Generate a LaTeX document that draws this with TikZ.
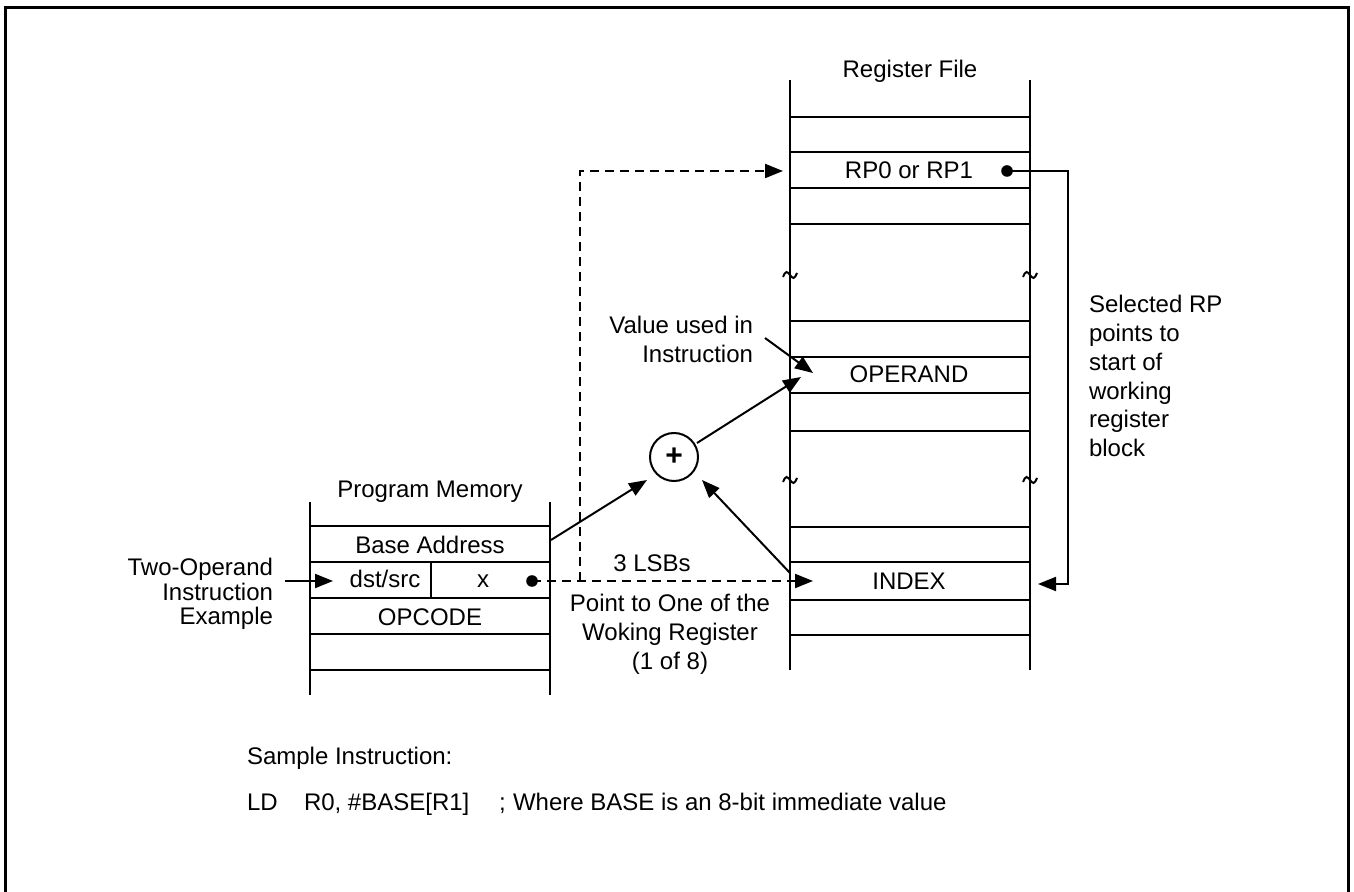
\documentclass[tikz,border=0pt]{standalone}
\usepackage{fontspec}
\setmainfont{Liberation Sans}
\usetikzlibrary{arrows.meta,calc}
\begin{document}
\begin{tikzpicture}[x=0.5pt,y=-0.5pt,line width=1pt,
  txt/.style={inner sep=0pt,font=\fontsize{12}{14}\selectfont},
  arr/.style={-{Triangle[length=9pt,width=7pt]}},
  dsh/.style={dash pattern=on 4.5pt off 3pt},
  blob/.style={circle,fill,inner sep=0pt,minimum size=5.8pt},
  tld/.style={line width=1pt}]
\useasboundingbox (0,0) rectangle (1354,892);
% frame
\draw[line width=1.5pt] (5.5,892) -- (5.5,7.5) -- (1348,7.5) -- (1348,892);

% ---------- Register file ----------
\node[txt,anchor=base] (rftitle) at (910,78) {Register File};
\draw (790,80) -- (790,670);
\draw (1030,80) -- (1030,670);
\foreach \yy in {117,152,188,224,321,357,393,431,527,562,600,635}
  \draw (790,\yy) -- (1030,\yy);
\foreach \xx/\yy in {790/275,1030/275,790/480,1030/480}
  \draw[tld] (\xx-7,\yy+2) sin (\xx-3.5,\yy-3) cos (\xx,\yy) sin (\xx+3.5,\yy+3) cos (\xx+7,\yy-2);
\node[txt,anchor=base] (rp) at (909,179) {RP0 or RP1};
\node[txt,anchor=base] (operand) at (909,383) {OPERAND};
\node[txt,anchor=base] (index) at (909,589) {INDEX};
\node[blob] (rpdot) at (1007,171) {};

% ---------- Program memory ----------
\node[txt,anchor=base] (pmtitle) at (430,498) {Program Memory};
\draw (310,502) -- (310,695);
\draw (550,502) -- (550,695);
\foreach \yy in {526,562,598,634,670}
  \draw (310,\yy) -- (550,\yy);
\draw (431,562) -- (431,598);
\node[txt,anchor=base] (base) at (430,553) {Base Address};
\node[txt,anchor=base] (dst) at (385,588) {dst/src};
\node[txt,anchor=base] (xf) at (483,588) {x};
\node[txt,anchor=base] (opcode) at (430,625) {OPCODE};
\node[blob] (xdot) at (532,581) {};

% ---------- labels ----------
\node[txt,anchor=north east,align=right,font=\fontsize{12}{12.25}\selectfont] (two) at (274,557.5) {Two-Operand\\Instruction\\Example};
\node[txt,anchor=north east,align=right,font=\fontsize{12}{14.25}\selectfont] (val) at (754,315.5) {Value used in\\Instruction};
\node[txt,anchor=north,align=center,font=\fontsize{12}{14.5}\selectfont] (point) at (670,593) {Point to One of the\\Woking Register\\(1 of 8)};
\node[txt,anchor=north west,align=left,font=\fontsize{12}{14.45}\selectfont] (sel) at (1088,294) {Selected RP\\points to\\start of\\working\\register\\block};
\node[txt,anchor=base] (lsb) at (652,572) {3 LSBs};

% ---------- adder ----------
\node[circle,draw,inner sep=0pt,minimum size=24pt,font=\fontsize{15}{15}\bfseries\selectfont] (plus) at (674,457) {+};

% ---------- coordinates ----------
\coordinate (twoS) at (285,581);
\coordinate (twoT) at (333,581);
\coordinate (baseR) at (551,540);
\coordinate (plusA) at (647,480);
\coordinate (idxL) at (790,573);
\coordinate (plusB) at (702,480);
\coordinate (plusO) at (697,443);
\coordinate (opT) at (801,377);
\coordinate (valS) at (765,338);
\coordinate (valT) at (813,373);
\coordinate (idxT) at (813,581);
\coordinate (branch) at (580,581);
\coordinate (rpT) at (783,171);
\coordinate (idxR) at (1038,584);

% ---------- connectors ----------
\draw[arr] (twoS) -- (twoT);
\draw[arr] (baseR) -- (plusA);
\draw[arr] (idxL) -- (plusB);
\draw[arr] (plusO) -- (opT);
\draw[arr] (valS) -- (valT);
\draw[arr,dsh] (xdot.center) -- (idxT);
\draw[arr,dsh] (branch) |- (rpT);
\draw[arr] (rpdot.center) -- (1068,171) |- (idxR);

% ---------- sample instruction ----------
\node[txt,anchor=base west] (sample) at (246,764) {Sample Instruction:};
\node[txt,anchor=base west] (ld) at (246,810) {LD};
\node[txt,anchor=base west] (ops) at (303,810) {R0, \#BASE[R1]};
\node[txt,anchor=base west] (semi) at (498,810) {;};
\node[txt,anchor=base west] (cmt) at (512,810) {Where BASE is an 8-bit immediate value};
\end{tikzpicture}
\end{document}
